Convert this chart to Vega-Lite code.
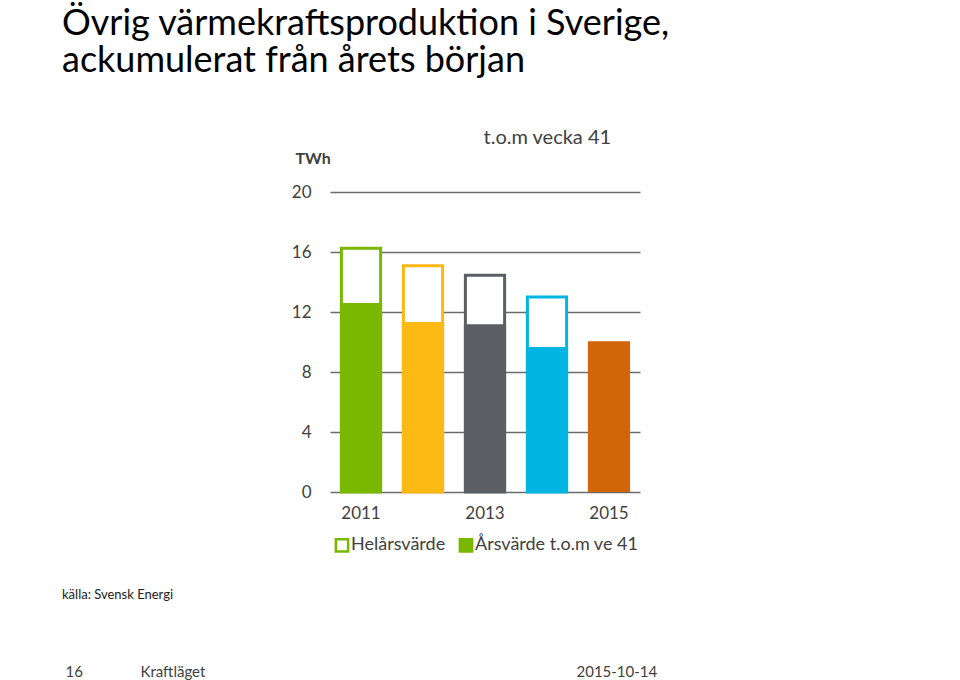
{
  "$schema": "https://vega.github.io/schema/vega-lite/v6.json",
  "autosize": {"type": "none"},
  "width": 310,
  "height": 300,
  "padding": {"left": 330, "top": 192, "right": 320, "bottom": 188},
  "background": "white",
  "config": {"view": {"stroke": null}, "font": "Lato"},
  "title": {
    "text": ["Övrig värmekraftsproduktion i Sverige,", "ackumulerat från årets början"],
    "subtitle": "källa: Svensk Energi",
    "anchor": "start",
    "frame": "group",
    "font": "Lato",
    "fontSize": 36,
    "fontWeight": "normal",
    "color": "#000000",
    "lineHeight": 37,
    "subtitleFont": "Lato",
    "subtitleFontSize": 13,
    "subtitleColor": "#222222",
    "subtitlePadding": 509,
    "dx": -268,
    "dy": 476,
    "offset": 0
  },
  "data": {
    "values": [
      {"year": "2011", "full": 16.25, "ytd": 12.6},
      {"year": "2012", "full": 15.08, "ytd": 11.33},
      {"year": "2013", "full": 14.45, "ytd": 11.18},
      {"year": "2014", "full": 13.0, "ytd": 9.67},
      {"year": "2015", "full": null, "ytd": 10.05}
    ]
  },
  "layer": [
    {
      "mark": {"type": "bar", "fill": "white", "strokeWidth": 3, "width": {"band": 0.93}},
      "encoding": {
        "x": {
          "field": "year", "type": "ordinal",
          "scale": {"paddingInner": 0.32, "paddingOuter": 0.16},
          "axis": {
            "orient": "bottom", "values": ["2011", "2013", "2015"], "labelAngle": 0,
            "labelFontSize": 17, "labelColor": "#404040", "labelPadding": 13,
            "ticks": false, "domain": false, "grid": false,
            "title": "16\u00a0\u00a0\u00a0\u00a0\u00a0\u00a0\u00a0\u00a0\u00a0\u00a0\u00a0\u00a0\u00a0\u00a0\u00a0Kraftläget",
            "titleX": -265, "titleY": 179, "titleAlign": "left", "titleBaseline": "middle",
            "titleFontSize": 15, "titleFontWeight": "normal", "titleColor": "#404040"
          }
        },
        "y": {
          "field": "full", "type": "quantitative",
          "scale": {"domain": [0, 20]},
          "axis": {
            "values": [0, 4, 8, 12, 16, 20], "grid": true, "gridColor": "#6b6b6b", "gridWidth": 1.3,
            "ticks": false, "domain": false,
            "labelFontSize": 17, "labelColor": "#404040", "labelPadding": 19,
            "title": "TWh", "titleAngle": 0, "titleX": -35, "titleY": -34,
            "titleAlign": "left", "titleBaseline": "middle",
            "titleFontSize": 16, "titleFontWeight": "bold", "titleColor": "#404040"
          }
        },
        "stroke": {
          "field": "year", "type": "nominal",
          "scale": {"domain": ["2011", "2012", "2013", "2014", "2015"], "range": ["#7AB800", "#FDB913", "#5B5F63", "#00B5E2", "#D2640A"]},
          "legend": null
        }
      }
    },
    {
      "mark": {"type": "bar"},
      "encoding": {
        "x": {"field": "year", "type": "ordinal", "axis": null},
        "y": {"field": "ytd", "type": "quantitative", "axis": null},
        "color": {
          "field": "year", "type": "nominal",
          "scale": {"domain": ["2011", "2012", "2013", "2014", "2015"], "range": ["#7AB800", "#FDB913", "#5B5F63", "#00B5E2", "#D2640A"]},
          "legend": null
        }
      }
    },
    {
      "data": {"values": [
        {"year": "2011", "v": 0, "type": "Helårsvärde"},
        {"year": "2011", "v": 0, "type": "Årsvärde t.o.m ve 41"}
      ]},
      "mark": {"type": "square", "opacity": 0, "size": 150, "stroke": "#7AB800", "strokeWidth": 2.5},
      "encoding": {
        "x": {
          "field": "year", "type": "ordinal",
          "axis": {
            "orient": "top", "labels": false, "ticks": false, "domain": false, "grid": false,
            "title": "t.o.m vecka 41", "titleX": 153, "titleY": -55,
            "titleAlign": "left", "titleBaseline": "middle",
            "titleFontSize": 20, "titleFontWeight": "normal", "titleColor": "#404040"
          }
        },
        "y": {
          "field": "v", "type": "quantitative",
          "axis": {
            "orient": "right", "labels": false, "ticks": false, "domain": false, "grid": false,
            "title": "2015-10-14", "titleAngle": 0, "titleX": -64, "titleY": 479,
            "titleAlign": "left", "titleBaseline": "middle",
            "titleFontSize": 15, "titleFontWeight": "normal", "titleColor": "#404040"
          }
        },
        "fill": {
          "field": "type", "type": "nominal",
          "scale": {"domain": ["Helårsvärde", "Årsvärde t.o.m ve 41"], "range": ["#ffffff", "#7AB800"]},
          "legend": {
            "orient": "none", "legendX": 3, "legendY": 344, "direction": "horizontal",
            "title": null, "symbolType": "square", "symbolSize": 150,
            "symbolStrokeColor": "#7AB800", "symbolStrokeWidth": 2.5, "symbolOpacity": 1,
            "labelFontSize": 18, "labelColor": "#404040", "labelOffset": 0, "labelLimit": 400,
            "columnPadding": 8, "padding": 0
          }
        }
      }
    }
  ],
  "resolve": {"axis": {"x": "independent", "y": "independent"}}
}
